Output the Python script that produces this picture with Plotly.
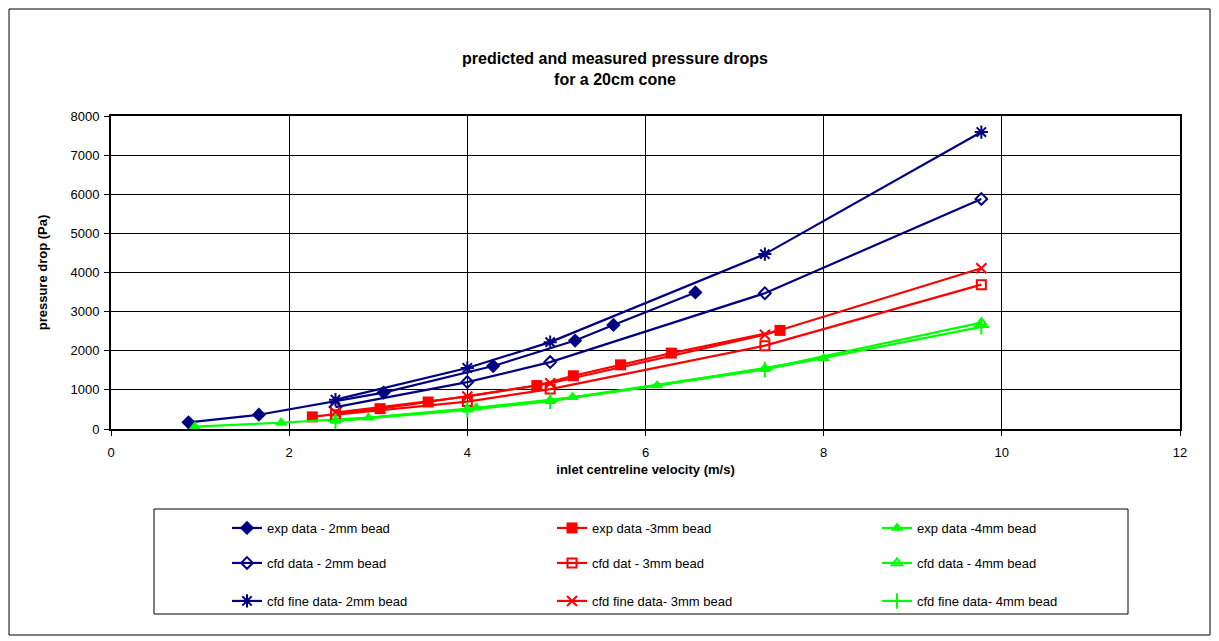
import plotly.graph_objects as go

# ---------------- data ----------------
exp2_v = [0.87, 1.66, 3.06, 4.29, 5.21, 5.64, 6.56]
exp2_p = [170, 365, 930, 1610, 2260, 2660, 3490]

exp3_v = [2.26, 3.02, 3.56, 4.78, 5.19, 5.72, 6.29, 7.51]
exp3_p = [310, 520, 690, 1110, 1360, 1640, 1940, 2520]

exp4_v = [0.94, 1.91, 2.89, 4.10, 5.18, 6.13, 8.00]
exp4_p = [60, 160, 290, 540, 810, 1110, 1810]

cfd_v = [2.52, 4.00, 4.93, 7.34, 9.77]
cfd2_p = [560, 1200, 1710, 3470, 5880]
cfd3_p = [365, 700, 1020, 2130, 3690]
cfd4_p = [215, 505, 725, 1540, 2720]

fine2_p = [750, 1560, 2220, 4470, 7590]
fine3_p = [420, 830, 1170, 2410, 4110]
fine4_p = [200, 490, 710, 1520, 2610]

names = [
    "exp data - 2mm bead", "exp data -3mm bead", "exp data -4mm bead",
    "cfd data - 2mm bead", "cfd dat - 3mm bead", "cfd data - 4mm bead",
    "cfd fine data- 2mm bead", "cfd fine data- 3mm bead", "cfd fine data- 4mm bead",
]

x_ticks = [0, 2, 4, 6, 8, 10, 12]
y_ticks = [0, 1000, 2000, 3000, 4000, 5000, 6000, 7000, 8000]

NAVY = "#000080"
RED = "#FF0000"
GREEN = "#00FF00"
FONT = "Liberation Sans, Arial, sans-serif"

series = [
    (exp2_v, exp2_p, NAVY, "diamond", 11, "legend"),
    (exp3_v, exp3_p, RED, "square", 11, "legend"),
    (exp4_v, exp4_p, GREEN, "triangle-up", 11, "legend"),
    (cfd_v, cfd2_p, NAVY, "diamond-open", 9, "legend2"),
    (cfd_v, cfd3_p, RED, "square-open", 9, "legend2"),
    (cfd_v, cfd4_p, GREEN, "triangle-up-open", 9, "legend2"),
    (cfd_v, fine2_p, NAVY, "asterisk-open", 11, "legend3"),
    (cfd_v, fine3_p, RED, "x-thin-open", 10, "legend3"),
    (cfd_v, fine4_p, GREEN, "cross-thin-open", 11, "legend3"),
]

fig = go.Figure()
for (xv, yv, col, sym, sz, lg), nm in zip(series, names):
    fig.add_trace(go.Scatter(
        x=xv, y=yv, name=nm, mode="lines+markers", legend=lg,
        line=dict(color=col, width=2.2),
        marker=dict(symbol=sym, size=sz, color=col,
                    line=dict(color=col, width=2 if "open" in sym else 0)),
    ))

# page body has an 8px margin: shift the whole figure accordingly
OFF = 8
W, H = 1219 - OFF, 641 - OFF
L, R, T, B = 111 - OFF, 1219 - 1180, 116 - OFF, 641 - 429
pw, ph = W - L - R, H - T - B


def px(x):
    """reference pixel x -> paper coordinate"""
    return (x - OFF - L) / pw


def py(y):
    """reference pixel y -> paper coordinate"""
    return (H - B - (y - OFF)) / ph


legend_common = dict(
    orientation="h", entrywidth=280, entrywidthmode="pixels",
    xanchor="left", yanchor="middle", x=px(227),
    bgcolor="rgba(0,0,0,0)", borderwidth=0,
    font=dict(family=FONT, size=13, color="black"),
)

fig.update_layout(
    width=W, height=H,
    margin=dict(l=L, r=R, t=T, b=B),
    paper_bgcolor="white", plot_bgcolor="white",
    font=dict(family=FONT, size=13, color="black"),
    title=dict(
        text="<b>predicted and measured pressure drops<br>for a 20cm cone</b>",
        font=dict(family=FONT, size=16, color="black"),
        x=(615 - OFF) / W, xanchor="center", xref="container",
        y=1 - (64 - OFF) / H, yanchor="middle", yref="container",
    ),
    legend=dict(legend_common, y=py(528)),
    legend2=dict(legend_common, y=py(563)),
    legend3=dict(legend_common, y=py(601)),
    xaxis=dict(
        range=[0, 12], tickvals=x_ticks, ticktext=[str(t) for t in x_ticks],
        showgrid=True, gridcolor="black", gridwidth=1,
        showline=True, linecolor="black", linewidth=2, mirror=True,
        ticks="outside", ticklen=5, tickcolor="black", tickwidth=1,
        ticklabelstandoff=5,
        zeroline=False,
        tickfont=dict(family=FONT, size=13, color="black"),
        title=dict(text="<b>inlet centreline velocity (m/s)</b>", standoff=6,
                   font=dict(family=FONT, size=13, color="black")),
    ),
    yaxis=dict(
        range=[0, 8000], tickvals=y_ticks, ticktext=[str(t) for t in y_ticks],
        showgrid=True, gridcolor="black", gridwidth=1,
        showline=True, linecolor="black", linewidth=2, mirror=True,
        ticks="outside", ticklen=5, tickcolor="black", tickwidth=1,
        ticklabelstandoff=2,
        zeroline=False,
        tickfont=dict(family=FONT, size=13, color="black"),
        title=dict(text="<b>pressure drop (Pa)</b>", standoff=20,
                   font=dict(family=FONT, size=13, color="black")),
    ),
    shapes=[
        # outer chart frame
        dict(type="rect", xref="paper", yref="paper",
             x0=px(9), x1=px(1210), y0=py(635), y1=py(9),
             line=dict(color="black", width=1), fillcolor="rgba(0,0,0,0)",
             layer="below"),
        # legend frame
        dict(type="rect", xref="paper", yref="paper",
             x0=px(154), x1=px(1128), y0=py(614), y1=py(509),
             line=dict(color="black", width=1), fillcolor="rgba(0,0,0,0)",
             layer="below"),
    ],
)

fig.write_html("out.html")
